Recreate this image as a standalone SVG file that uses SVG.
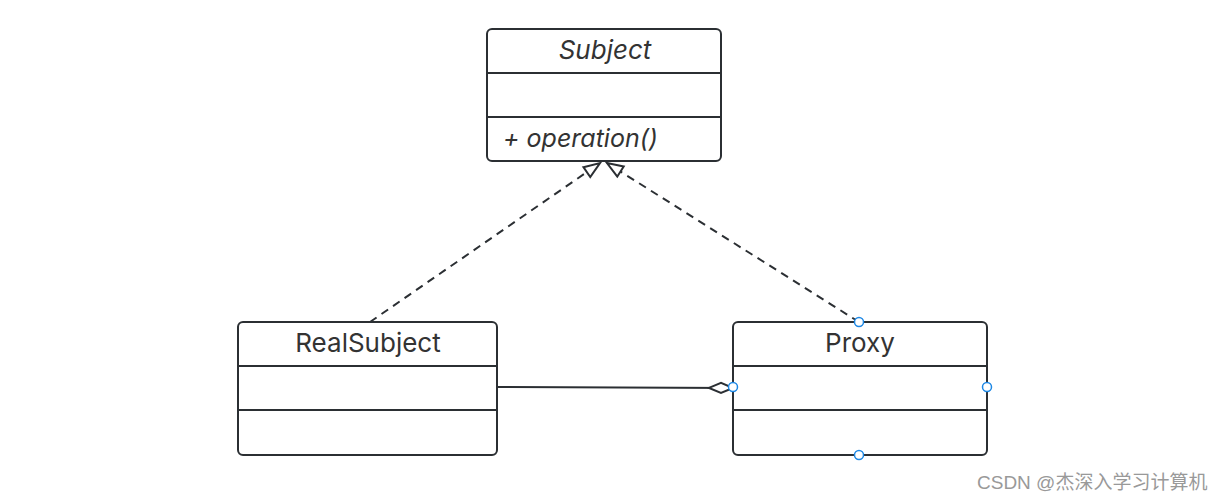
<svg xmlns="http://www.w3.org/2000/svg" width="1223" height="502" viewBox="0 0 1223 502">
<style>
.box{fill:#fff;stroke:#2b2f33;stroke-width:2}
.div{stroke:#2b2f33;stroke-width:2}
.t{font-family:Inter,"Open Sans",sans-serif;font-size:26px;fill:#333;text-anchor:middle}
.i{font-style:italic}
.dash{fill:none;stroke:#2b2f33;stroke-width:2;stroke-dasharray:8,6}
.solid{fill:none;stroke:#2b2f33;stroke-width:2}
.h{fill:#fff;stroke:#1e88e5;stroke-width:1.5}
</style>
<defs>
<marker id="tri" markerWidth="20" markerHeight="16" refX="18" refY="8" orient="auto" markerUnits="userSpaceOnUse">
<path d="M2,2 L18,8 L2,14 Z" fill="#fff" stroke="#2b2f33" stroke-width="2"/>
</marker>
<marker id="dia" markerWidth="28" markerHeight="14" refX="26" refY="7" orient="auto" markerUnits="userSpaceOnUse">
<path d="M2,7 L14,2 L26,7 L14,12 Z" fill="#fff" stroke="#2b2f33" stroke-width="2"/>
</marker>
</defs>
<rect width="1223" height="502" fill="#fff"/>
<g id="connectors">
<path class="dash" d="M370,322 L600,163" marker-end="url(#tri)"/>
<path class="dash" d="M859,322 L607,163" marker-end="url(#tri)"/>
<path class="solid" d="M497,387 L733,388" marker-end="url(#dia)"/>
</g>
<g id="subject">
<rect class="box" x="487" y="29" width="234" height="132" rx="5"/>
<line class="div" x1="487" y1="73" x2="721" y2="73"/>
<line class="div" x1="487" y1="117" x2="721" y2="117"/>
<text class="t i" x="605" y="59">Subject</text>
<text class="t i" x="503" y="147" style="text-anchor:start;font-size:25px">+ operation()</text>
</g>
<g id="realsubject">
<rect class="box" x="238" y="322" width="259" height="133" rx="5"/>
<line class="div" x1="238" y1="366" x2="497" y2="366"/>
<line class="div" x1="238" y1="410" x2="497" y2="410"/>
<text class="t" x="368" y="352">RealSubject</text>
</g>
<g id="proxy">
<rect class="box" x="733" y="322" width="254" height="133" rx="5"/>
<line class="div" x1="733" y1="366" x2="987" y2="366"/>
<line class="div" x1="733" y1="410" x2="987" y2="410"/>
<text class="t" x="860" y="352">Proxy</text>
<circle class="h" cx="859" cy="322" r="4.5"/>
<circle class="h" cx="733" cy="387" r="4.5"/>
<circle class="h" cx="987" cy="387" r="4.5"/>
<circle class="h" cx="859" cy="455" r="4.5"/>
</g>
<text x="977" y="489" style="font-family:'Liberation Sans','Noto Sans CJK SC',sans-serif;font-size:19px;fill:#999">CSDN @杰深入学习计算机</text>
</svg>
